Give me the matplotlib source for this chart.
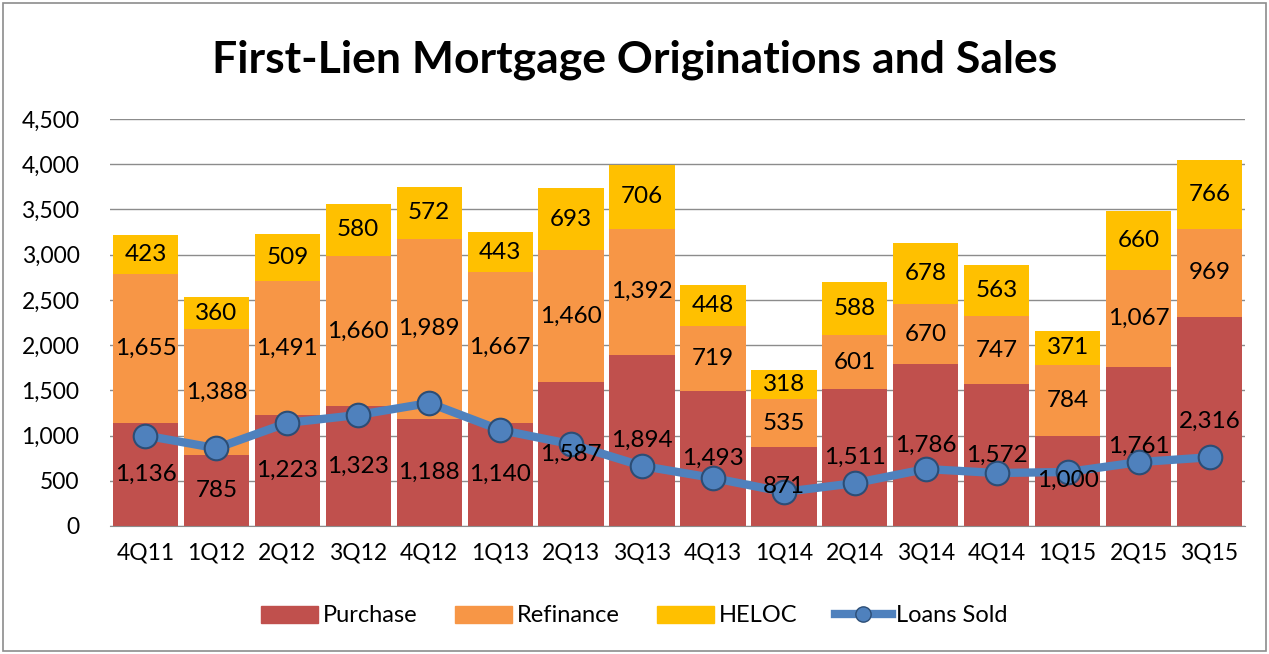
import matplotlib
matplotlib.use("Agg")
import matplotlib.pyplot as plt
from matplotlib.patches import Rectangle
from matplotlib.lines import Line2D
import numpy as np

quarters = ["4Q11", "1Q12", "2Q12", "3Q12", "4Q12", "1Q13", "2Q13", "3Q13",
            "4Q13", "1Q14", "2Q14", "3Q14", "4Q14", "1Q15", "2Q15", "3Q15"]
purchase = [1136, 785, 1223, 1323, 1188, 1140, 1587, 1894,
            1493, 871, 1511, 1786, 1572, 1000, 1761, 2316]
refinance = [1655, 1388, 1491, 1660, 1989, 1667, 1460, 1392,
             719, 535, 601, 670, 747, 784, 1067, 969]
heloc = [423, 360, 509, 580, 572, 443, 693, 706,
         448, 318, 588, 678, 563, 371, 660, 766]
loans_sold = [1000, 860, 1140, 1228, 1360, 1062, 905, 664,
              531, 376, 474, 630, 586, 597, 706, 760]

plt.rcParams["font.family"] = ["Lato", "DejaVu Sans"]

fig = plt.figure(figsize=(12.69, 6.54), dpi=100)
ax = fig.add_axes([110 / 1269, 1 - 526 / 654, 1135 / 1269, 407 / 654])

x = np.arange(len(quarters))
w = 0.92
c_pur, c_ref, c_hel = "#C0504D", "#F79646", "#FFC000"
bottom2 = np.array(purchase)
bottom3 = bottom2 + np.array(refinance)
ax.bar(x, purchase, w, color=c_pur, label="Purchase", zorder=2)
ax.bar(x, refinance, w, bottom=bottom2, color=c_ref, label="Refinance", zorder=2)
ax.bar(x, heloc, w, bottom=bottom3, color=c_hel, label="HELOC", zorder=2)

for xi, p, r, h in zip(x, purchase, refinance, heloc):
    ax.text(xi, p / 2, f"{p:,}", ha="center", va="center", fontsize=17.5, zorder=5)
    ax.text(xi, p + r / 2, f"{r:,}", ha="center", va="center", fontsize=17.5, zorder=5)
    ax.text(xi, p + r + h / 2, f"{h:,}", ha="center", va="center", fontsize=17.5, zorder=5)

ax.plot(x, loans_sold, color="#4F81BD", lw=6, marker="o", markersize=17,
        markerfacecolor="#4F81BD", markeredgecolor="#2C4D75", markeredgewidth=1.5,
        label="Loans Sold", zorder=4)

ax.set_xlim(-0.5, len(quarters) - 0.5)
ax.set_ylim(0, 4500)
ax.set_yticks(range(0, 4501, 500))
ax.set_yticklabels([f"{v:,}" for v in range(0, 4501, 500)])
ax.set_xticks(x)
ax.set_xticklabels(quarters)
ax.tick_params(axis="both", labelsize=16.5, length=0)
ax.tick_params(axis="y", pad=22)
ax.tick_params(axis="x", pad=12)
ax.yaxis.grid(True, color="#8C8C8C", lw=1, zorder=0)
for s in ["left", "right", "top"]:
    ax.spines[s].set_visible(False)
ax.spines["bottom"].set_color("#8C8C8C")

fig.text(0.5, 1 - 60 / 654, "First-Lien Mortgage Originations and Sales",
         ha="center", va="center", fontsize=32, fontweight="bold")

handles = [Rectangle((0, 0), 1, 1, color=c_pur),
           Rectangle((0, 0), 1, 1, color=c_ref),
           Rectangle((0, 0), 1, 1, color=c_hel),
           Line2D([], [], color="#4F81BD", lw=6, marker="o", markersize=11,
                  markerfacecolor="#4F81BD", markeredgecolor="#2C4D75")]
fig.legend(handles, ["Purchase", "Refinance", "HELOC", "Loans Sold"],
           loc="center", bbox_to_anchor=(0.5, 1 - 616 / 654), ncol=4,
           frameon=False, fontsize=17, handlelength=2.4, handletextpad=0.2,
           columnspacing=1.6)

fig.patches.append(Rectangle((3 / 1269, 3 / 654), 1 - 6 / 1269, 1 - 6 / 654,
                             transform=fig.transFigure, fill=False,
                             edgecolor="#8C8C8C", lw=1.2))

fig.savefig("out.png", dpi=100)
